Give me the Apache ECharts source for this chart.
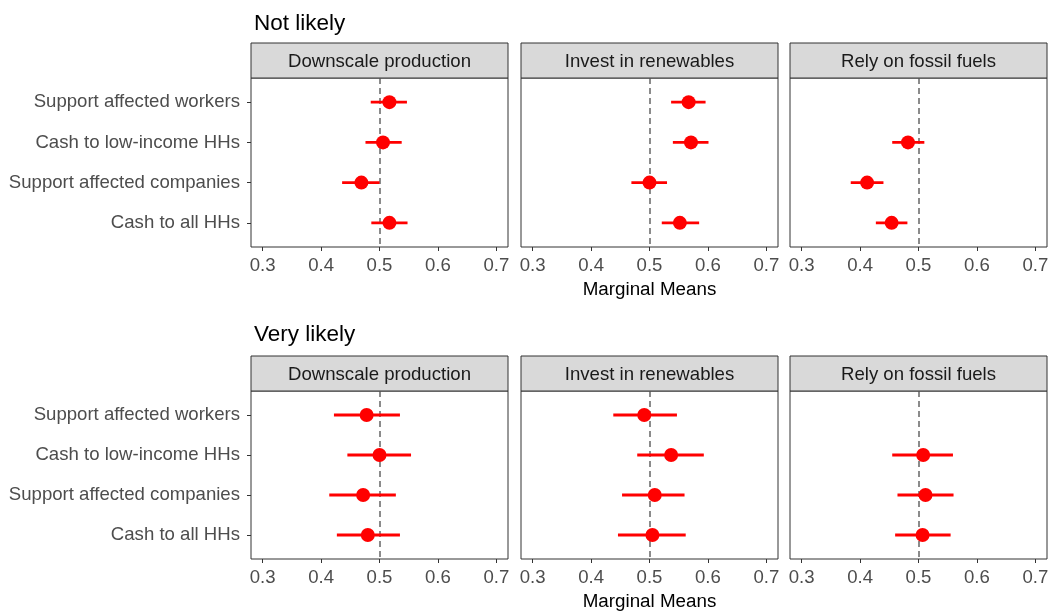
<!DOCTYPE html>
<html>
<head>
<meta charset="utf-8">
<script src="https://cdn.jsdelivr.net/npm/echarts@6/dist/echarts.min.js"></script>
<style>
  html, body { margin: 0; padding: 0; background: #ffffff; }
  #chart { width: 1054px; height: 612px; }
</style>
</head>
<body>
<div id="chart"></div>
<script>
// Attribute levels (rows within each panel, top to bottom)
const categories = ['Support affected workers', 'Cash to low-income HHs', 'Support affected companies', 'Cash to all HHs'];
// Panel columns and the two outcome blocks
const facets = ['Downscale production', 'Invest in renewables', 'Rely on fossil fuels'];
const outcomes = ['Not likely', 'Very likely'];
const xTicks = [0.3, 0.4, 0.5, 0.6, 0.7];
const referenceValue = 0.5;

// Marginal means as [estimate, lower, upper]; null = no estimate for that level
const notLikelyDownscale = [[0.517, 0.485, 0.547], [0.506, 0.476, 0.538], [0.469, 0.436, 0.500], [0.517, 0.486, 0.548]];
const notLikelyRenewables = [[0.567, 0.537, 0.596], [0.571, 0.540, 0.601], [0.500, 0.469, 0.530], [0.552, 0.521, 0.585]];
const notLikelyFossil = [null, [0.482, 0.455, 0.510], [0.412, 0.384, 0.440], [0.454, 0.427, 0.481]];
const veryLikelyDownscale = [[0.478, 0.422, 0.535], [0.500, 0.445, 0.554], [0.472, 0.414, 0.528], [0.480, 0.427, 0.535]];
const veryLikelyRenewables = [[0.491, 0.438, 0.547], [0.537, 0.479, 0.593], [0.509, 0.453, 0.560], [0.505, 0.446, 0.562]];
const veryLikelyFossil = [null, [0.508, 0.455, 0.559], [0.512, 0.464, 0.560], [0.507, 0.460, 0.555]];

const panelData = [
  [notLikelyDownscale, notLikelyRenewables, notLikelyFossil],
  [veryLikelyDownscale, veryLikelyRenewables, veryLikelyFossil]
];

// Layout
const FONT = '"Liberation Sans", Arial, Helvetica, sans-serif';
const LABEL_SIZE = 18.6;
const colLeft = [251, 521, 790];
const panelW = 257;
const rowTop = [78, 391];
const panelH = [169, 168];
const stripH = 35;
const RED = '#FF0000';

const grids = [], xAxes = [], yAxes = [], series = [], graphics = [], titles = [];

outcomes.forEach((outcome, r) => {
  titles.push({
    text: outcome,
    left: 249,
    top: r === 0 ? 7 : 318,
    textStyle: { fontFamily: FONT, fontSize: 22.5, fontWeight: 'normal', color: '#000000' }
  });
  facets.forEach((facet, c) => {
    const idx = r * 3 + c;
    grids.push({
      left: colLeft[c], top: rowTop[r], width: panelW, height: panelH[r],
      show: true, borderColor: '#333333', borderWidth: 1, backgroundColor: '#ffffff'
    });
    xAxes.push({
      type: 'value', gridIndex: idx, min: 0.28, max: 0.72,
      axisLine: { show: false },
      splitLine: { show: false },
      axisTick: { show: true, customValues: xTicks, length: 4, lineStyle: { color: '#333333', width: 1 } },
      axisLabel: {
        customValues: xTicks, formatter: v => v.toFixed(1), margin: 9,
        color: '#4D4D4D', fontFamily: FONT, fontSize: LABEL_SIZE
      },
      name: c === 1 ? 'Marginal Means' : '',
      nameLocation: 'middle', nameGap: 33,
      nameTextStyle: { color: '#000000', fontFamily: FONT, fontSize: 18.8 }
    });
    yAxes.push({
      type: 'value', gridIndex: idx, min: 0.4, max: 4.6, inverse: true,
      axisLine: { show: false },
      splitLine: { show: false },
      axisTick: { show: c === 0, customValues: [1, 2, 3, 4], length: 4, lineStyle: { color: '#333333', width: 1 } },
      axisLabel: {
        show: c === 0, customValues: [1, 2, 3, 4], formatter: v => categories[Math.round(v) - 1],
        margin: 11, color: '#4D4D4D', fontFamily: FONT, fontSize: LABEL_SIZE
      }
    });

    const rows = panelData[r][c];
    const points = [], bars = [];
    rows.forEach((d, i) => {
      if (!d) return;
      points.push([d[0], i + 1]);
      bars.push([d[1], d[2], i + 1]);
    });

    // dashed reference line at 0.5, kept beneath the marks
    series.push({
      type: 'line', xAxisIndex: idx, yAxisIndex: idx, data: [], z: 1, silent: true,
      markLine: {
        z: 1, silent: true, symbol: 'none', animation: false,
        label: { show: false },
        lineStyle: { color: '#7F7F7F', type: [6, 4], width: 1.8 },
        data: [{ xAxis: referenceValue }]
      }
    });
    // confidence intervals
    series.push({
      type: 'custom', xAxisIndex: idx, yAxisIndex: idx, z: 2, silent: true,
      data: bars,
      encode: { x: [0, 1], y: 2 },
      renderItem: (params, api) => {
        const a = api.coord([api.value(0), api.value(2)]);
        const b = api.coord([api.value(1), api.value(2)]);
        return {
          type: 'line',
          shape: { x1: a[0], y1: a[1], x2: b[0], y2: b[1] },
          style: { stroke: RED, lineWidth: 2.8 }
        };
      }
    });
    // point estimates
    series.push({
      type: 'scatter', xAxisIndex: idx, yAxisIndex: idx, z: 3, silent: true,
      data: points, symbol: 'circle', symbolSize: 14,
      itemStyle: { color: RED, opacity: 1 }
    });

    // facet strip
    graphics.push({
      type: 'rect',
      shape: { x: colLeft[c], y: rowTop[r] - stripH, width: panelW, height: stripH },
      style: { fill: '#D9D9D9', stroke: '#333333', lineWidth: 1 },
      z: 10
    });
    graphics.push({
      type: 'text',
      x: colLeft[c] + panelW / 2, y: rowTop[r] - stripH / 2 + 1,
      style: {
        text: facet, fill: '#1A1A1A', font: LABEL_SIZE + 'px ' + FONT,
        align: 'center', verticalAlign: 'middle'
      },
      z: 11
    });
  });
});

const chart = echarts.init(document.getElementById('chart'), null, { renderer: 'canvas' });
chart.setOption({
  animation: false,
  backgroundColor: '#ffffff',
  title: titles,
  grid: grids,
  xAxis: xAxes,
  yAxis: yAxes,
  series: series,
  graphic: { elements: graphics }
});
</script>
</body>
</html>
